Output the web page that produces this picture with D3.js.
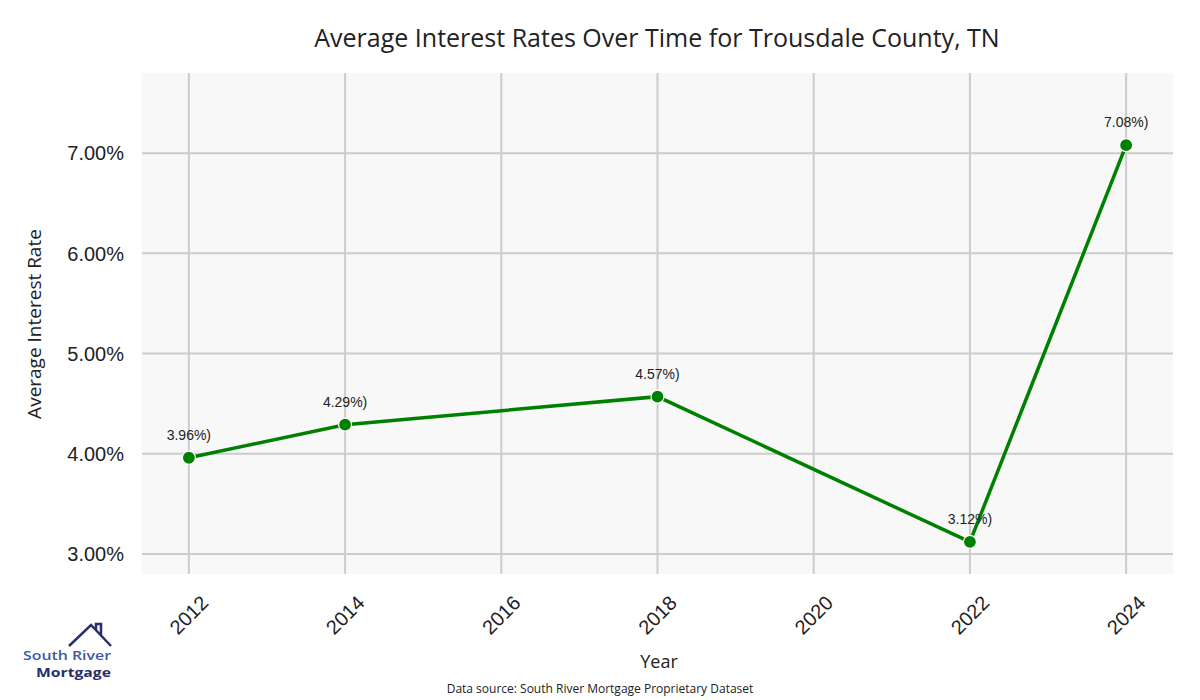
<!DOCTYPE html>
<html>
<head>
<meta charset="utf-8">
<script src="https://cdn.jsdelivr.net/npm/d3@7"></script>
<style>
  body { margin: 0; background: #fff; }
  text { font-family: "Liberation Sans", Arial, sans-serif; }
  .sans { font-family: "Open Sans", "DejaVu Sans", sans-serif; }
</style>
</head>
<body>
<svg id="chart"></svg>
<script>
// data
const years = [2012, 2014, 2018, 2022, 2024];
const rates = [3.96, 4.29, 4.57, 3.12, 7.08];
const xTicks = [2012, 2014, 2016, 2018, 2020, 2022, 2024];
const yTicks = [3, 4, 5, 6, 7];

const W = 1200, H = 700;
const margin = { top: 73, right: 27, bottom: 126, left: 142 };
const width = W - margin.left - margin.right;
const height = H - margin.top - margin.bottom;

const svg = d3.select('#chart').attr('width', W).attr('height', H);

const x = d3.scaleLinear().domain([2011.4, 2024.6]).range([0, width]);
const y = d3.scaleLinear().domain([2.8, 7.8]).range([height, 0]);

const g = svg.append('g').attr('transform', `translate(${margin.left},${margin.top})`);

g.append('rect')
    .attr('width', width).attr('height', height)
    .attr('fill', '#f8f8f8');

// grid
g.selectAll('.vgrid').data(xTicks).enter().append('line')
    .attr('x1', d => x(d)).attr('x2', d => x(d))
    .attr('y1', 0).attr('y2', height)
    .attr('stroke', '#cccccc').attr('stroke-width', 2);
g.selectAll('.hgrid').data(yTicks).enter().append('line')
    .attr('y1', d => y(d)).attr('y2', d => y(d))
    .attr('x1', 0).attr('x2', width)
    .attr('stroke', '#cccccc').attr('stroke-width', 2);

// y tick labels
g.selectAll('.ytick').data(yTicks).enter().append('text')
    .attr('x', -18).attr('y', d => y(d))
    .attr('dy', '0.36em')
    .attr('text-anchor', 'end')
    .attr('font-size', 20).attr('fill', '#222')
    .text(d => d.toFixed(2) + '%');

// x tick labels, rotated
g.selectAll('.xtick').data(xTicks).enter().append('text')
    .attr('transform', d => `translate(${x(d)},${height + 41}) rotate(-45)`)
    .attr('text-anchor', 'middle')
    .attr('dy', '0.35em')
    .attr('font-size', 20).attr('fill', '#222')
    .text(d => d);

const pts = years.map((yr, i) => ({ year: yr, rate: rates[i] }));

const line = d3.line().x(d => x(d.year)).y(d => y(d.rate));
g.append('path').datum(pts)
    .attr('d', line)
    .attr('fill', 'none')
    .attr('stroke', '#008000')
    .attr('stroke-width', 3.5);

g.selectAll('.dot').data(pts).enter().append('circle')
    .attr('cx', d => x(d.year)).attr('cy', d => y(d.rate))
    .attr('r', 6.5)
    .attr('fill', '#008000')
    .attr('stroke', '#fff').attr('stroke-width', 1.2);

g.selectAll('.lbl').data(pts).enter().append('text')
    .attr('x', d => x(d.year)).attr('y', d => y(d.rate) - 18)
    .attr('text-anchor', 'middle')
    .attr('font-size', 14).attr('fill', '#222')
    .text(d => d.rate.toFixed(2) + '%)');

// titles
svg.append('text').attr('class', 'sans')
    .attr('x', 657).attr('y', 47)
    .attr('text-anchor', 'middle')
    .attr('font-size', 25).attr('fill', '#222')
    .text('Average Interest Rates Over Time for Trousdale County, TN');

svg.append('text').attr('class', 'sans')
    .attr('transform', 'translate(41,324) rotate(-90)')
    .attr('text-anchor', 'middle')
    .attr('font-size', 19).attr('fill', '#222')
    .text('Average Interest Rate');

svg.append('text').attr('class', 'sans')
    .attr('x', 659).attr('y', 668)
    .attr('text-anchor', 'middle')
    .attr('font-size', 18).attr('fill', '#222')
    .text('Year');

svg.append('text').attr('class', 'sans')
    .attr('x', 600).attr('y', 693)
    .attr('text-anchor', 'middle')
    .attr('font-size', 12).attr('fill', '#222')
    .text('Data source: South River Mortgage Proprietary Dataset');

// logo
const logo = svg.append('g');
logo.append('path')
    .attr('d', 'M69,646 L91,625 L111,646 M96,630 L96,624 L101,624 L101,635')
    .attr('fill', 'none').attr('stroke', '#27306b').attr('stroke-width', 2.5);
logo.append('text').attr('class', 'sans')
    .attr('x', 23).attr('y', 660)
    .attr('font-weight', 600)
    .attr('font-size', 13).attr('fill', '#4057a8')
    .attr('textLength', 88).attr('lengthAdjust', 'spacingAndGlyphs')
    .text('South River');
logo.append('text').attr('class', 'sans')
    .attr('x', 36).attr('y', 677)
    .attr('font-weight', 700)
    .attr('font-size', 13).attr('fill', '#27306b')
    .attr('textLength', 75).attr('lengthAdjust', 'spacingAndGlyphs')
    .text('Mortgage');
</script>
</body>
</html>
